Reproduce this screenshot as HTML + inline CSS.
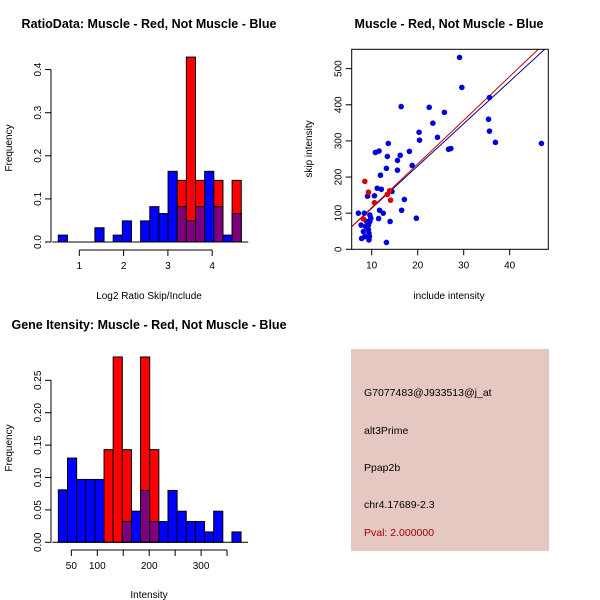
<!DOCTYPE html>
<html><head><meta charset="utf-8"><style>
body{margin:0;background:#fff}
svg{display:block;font-family:"Liberation Sans",sans-serif}
</style></head><body>
<svg id="s" width="600" height="600" xmlns="http://www.w3.org/2000/svg">
<rect width="600" height="600" fill="#fff"/>
<g>
<text x="149" y="28" font-size="12.5" font-weight="bold" text-anchor="middle">RatioData: Muscle - Red, Not Muscle - Blue</text>
<text x="149" y="299" font-size="10" text-anchor="middle">Log2 Ratio Skip/Include</text>
<text transform="translate(12,148) rotate(-90)" font-size="10" text-anchor="middle">Frequency</text>
<g id="p1"></g>
</g>
<g>
<text x="449" y="28" font-size="12.5" font-weight="bold" text-anchor="middle">Muscle - Red, Not Muscle - Blue</text>
<text x="449" y="299" font-size="10" text-anchor="middle">include intensity</text>
<text transform="translate(312,149) rotate(-90)" font-size="10" text-anchor="middle">skip intensity</text>
<g id="p2"></g>
</g>
<g>
<text x="149" y="329" font-size="12.5" font-weight="bold" text-anchor="middle">Gene Itensity: Muscle - Red, Not Muscle - Blue</text>
<text x="149" y="598" font-size="10" text-anchor="middle">Intensity</text>
<text transform="translate(12,448) rotate(-90)" font-size="10" text-anchor="middle">Frequency</text>
<g id="p3"></g>
</g>
<g>
<rect x="351" y="349" width="198" height="202" fill="#e5c8c2"/>
<text x="364" y="396" font-size="10.5">G7077483@J933513@j_at</text>
<text x="364" y="434" font-size="10.5">alt3Prime</text>
<text x="364" y="471" font-size="10.5">Ppap2b</text>
<text x="364" y="508" font-size="10.5">chr4.17689-2.3</text>
<text x="364" y="536" font-size="10.5" fill="#a00000">Pval: 2.000000</text>
</g>
</svg>
<script>
// Ratio histogram data
const ratioBinStart = 0.526, ratioBinWidth = 0.2065;
const ratioBlue = [0.016,0,0,0,0.033,0,0.016,0.049,0,0.049,0.082,0.066,0.164,0.082,0.049,0.082,0.164,0.082,0.016,0.066];
const ratioRed  = [0,0,0,0,0,0,0,0,0,0,0,0,0,0.143,0.429,0.143,0,0.143,0,0.143];
const ratioXTicks = [1,2,3,4];
const ratioYTicks = ["0.0","0.1","0.2","0.3","0.4"];
// Intensity histogram data
const intBinStart = 25, intBinWidth = 17.6;
const intBlue = [0.081,0.130,0.097,0.097,0.097,0,0,0.032,0.048,0.080,0.032,0.032,0.080,0.048,0.032,0.032,0.016,0.048,0,0.016];
const intRed  = [0,0,0,0,0,0.143,0.286,0.143,0,0.286,0.143,0,0,0,0,0,0,0,0,0];
const intXTicks = [50,100,150,200,250,300,350];
const intXLabels = ["50","100","","200","","300",""];
const intYTicks = ["0.00","0.05","0.10","0.15","0.20","0.25"];
// Scatter data
const blueX = [7.1,7.7,7.8,8.4,8.2,8.5,8.7,8.9,9.1,9.3,9.4,9.4,9.5,9.6,9.6,9.3,9.8,10.6,10.8,11.2,11.6,11.5,11.7,11.9,12.1,12.5,13.2,13.4,13.2,13.6,14.0,14.4,15.6,15.6,16.2,16.4,16.5,17.1,18.2,18.8,19.7,20.3,20.4,22.5,23.3,24.3,25.8,26.7,27.2,29.1,29.6,35.4,35.6,35.6,36.9,46.9];
const blueY = [100,67,30,100,49,35,63,77,147,67,44,26,35,95,77,54,86,148,268,169,272,85,108,205,166,100,224,257,19,293,77,160,246,219,260,395,108,138,271,232,86,324,302,393,349,310,379,277,279,531,448,360,327,420,296,293];
const redX = [8.5,9.3,10.6,13.4,13.9,14.1,8.2];
const redY = [188,158,129,152,162,136,84];
const fitBlue = [-3.4,11.7]; // intercept, slope
const fitRed = [-5.7,12.1];
const scXTicks = [10,20,30,40];
const scYTicks = [0,100,200,300,400,500];

const NS="http://www.w3.org/2000/svg";
function mk(p,t,a){const e=document.createElementNS(NS,t);for(const k in a)e.setAttribute(k,a[k]);p.appendChild(e);return e;}

function hist(g,cfg){
  const sx=v=>cfg.x0+(v-cfg.v0)*cfg.kx, sy=v=>cfg.y0-v*cfg.ky;
  for(let i=0;i<cfg.blue.length;i++){
    const a=cfg.binStart+i*cfg.binW,b=a+cfg.binW,x1=sx(a),x2=sx(b);
    const bl=cfg.blue[i],rd=cfg.red[i];
    if(rd>0){const r=mk(g,'rect',{x:x1,y:sy(rd),width:x2-x1,height:sy(0)-sy(rd),fill:'#ff0000',stroke:'#000','stroke-width':1});
      
      }
    if(bl>0){const c=rd>0?'#7f007f':'#0000ff';const h=rd>0?Math.min(bl,rd):bl;
      if(rd>0&&bl>rd){const r0=mk(g,'rect',{x:x1,y:sy(bl),width:x2-x1,height:sy(0)-sy(bl),fill:'#0000ff',stroke:'#000','stroke-width':1});
        
        }
      const r=mk(g,'rect',{x:x1,y:sy(h),width:x2-x1,height:sy(0)-sy(h),fill:c,stroke:'#000','stroke-width':1});
      
      }
  }
  const yt=cfg.yTicks;
  mk(g,'line',{x1:cfg.ax,x2:cfg.ax,y1:sy(0),y2:sy(parseFloat(yt[yt.length-1])),stroke:'#000'});
  yt.forEach(t=>{const v=parseFloat(t),y=sy(v);mk(g,'line',{x1:cfg.ax-6,x2:cfg.ax,y1:y,y2:y,stroke:'#000'});
    const tx=mk(g,'text',{transform:`translate(${cfg.ax-10},${y}) rotate(-90)`,'font-size':10,'text-anchor':'middle'});tx.textContent=t;
    
    });
  const xt=cfg.xTicks;
  mk(g,'line',{x1:sx(xt[0]),x2:sx(xt[xt.length-1]),y1:cfg.axy,y2:cfg.axy,stroke:'#000'});
  xt.forEach((v,i)=>{const x=sx(v);mk(g,'line',{x1:x,x2:x,y1:cfg.axy,y2:cfg.axy+6,stroke:'#000'});
    const tx=mk(g,'text',{x:x,y:cfg.axy+19,'font-size':10,'text-anchor':'middle'});tx.textContent=cfg.xLabels[i];
    
    });
  mk(g,'line',{x1:sx(cfg.binStart)-6,x2:sx(cfg.binStart+cfg.blue.length*cfg.binW)+7,y1:sy(0),y2:sy(0),stroke:'#000'});
}
hist(document.getElementById('p1'),{x0:79.3,v0:1,kx:44.3,y0:242,ky:431,binStart:ratioBinStart,binW:ratioBinWidth,blue:ratioBlue,red:ratioRed,
  ax:51,axy:250,xTicks:ratioXTicks,xLabels:ratioXTicks.map(String),yTicks:ratioYTicks});
hist(document.getElementById('p3'),{x0:97.3,v0:100,kx:0.519,y0:542.3,ky:648,binStart:intBinStart,binW:intBinWidth,blue:intBlue,red:intRed,
  ax:51,axy:550,xTicks:intXTicks,xLabels:intXLabels,yTicks:intYTicks});

(function(){
  const g=document.getElementById('p2');
  const L=351.7,R=548.3,T=49.3,B=249.3;
  const sx=v=>371.7+(v-10)*4.6, sy=v=>249.3-v*0.3613;
  const cp=mk(g,'clipPath',{id:'cp'});mk(cp,'rect',{x:L,y:T,width:R-L,height:B-T});
  const lg=mk(g,'g',{'clip-path':'url(#cp)'});
  [[fitBlue,'#00008b','fit-line-blue'],[fitRed,'#cc0000','fit-line-red']].forEach(([f,c,n])=>{
    const l=mk(lg,'line',{x1:sx(5),y1:sy(f[0]+f[1]*5),x2:sx(50),y2:sy(f[0]+f[1]*50),stroke:c,'stroke-width':1});
    
    });
  blueX.forEach((x,i)=>{const c=mk(g,'circle',{cx:sx(x),cy:sy(blueY[i]),r:2.8,fill:'#0000dd'});
    
    });
  redX.forEach((x,i)=>{const c=mk(g,'circle',{cx:sx(x),cy:sy(redY[i]),r:2.8,fill:'#dd0000'});
    
    });
  const b=mk(g,'rect',{x:L,y:T,width:R-L,height:B-T,fill:'none',stroke:'#000'});
  
  
  scXTicks.forEach(v=>{const x=sx(v);mk(g,'line',{x1:x,x2:x,y1:B,y2:B+6,stroke:'#000'});
    const t=mk(g,'text',{x:x,y:B+19,'font-size':10,'text-anchor':'middle'});t.textContent=v;
    
    });
  scYTicks.forEach(v=>{const y=sy(v);mk(g,'line',{x1:L-6,x2:L,y1:y,y2:y,stroke:'#000'});
    const t=mk(g,'text',{transform:`translate(${L-10},${y}) rotate(-90)`,'font-size':10,'text-anchor':'middle'});t.textContent=v;
    
    });
})();
</script>
</body></html>
